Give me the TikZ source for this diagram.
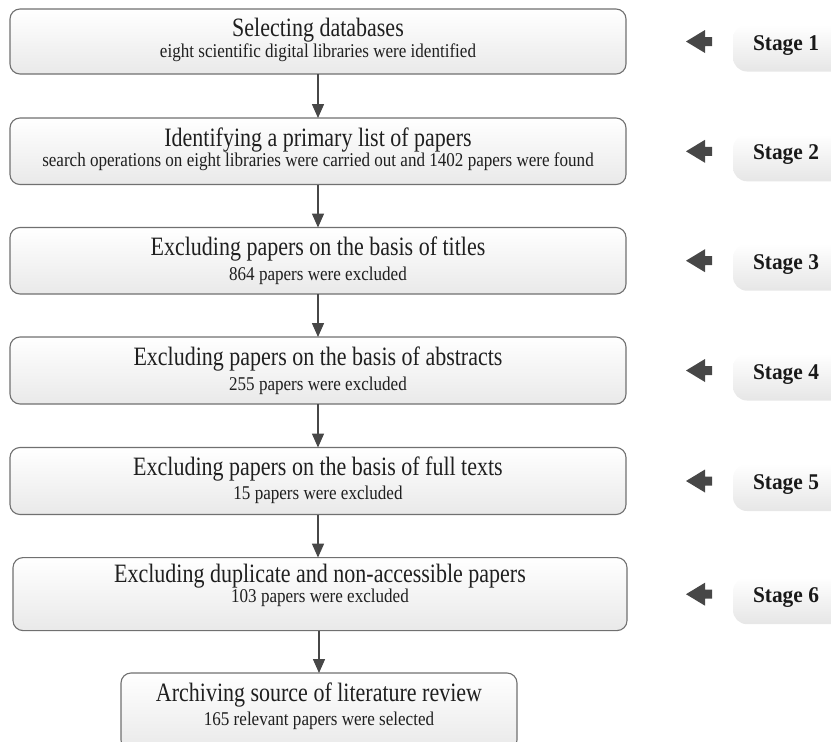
\documentclass[tikz,border=0pt]{standalone}
\usepackage{fontspec}
\setmainfont{Liberation Serif}
\newfontfamily\headfont{Liberation Serif}[FakeStretch=0.83]
\newfontfamily\subfont{Liberation Serif}[FakeStretch=0.875]
\newfontfamily\stagefont{Liberation Serif}[FakeStretch=0.95]
\usetikzlibrary{arrows.meta,calc}
\definecolor{boxgray}{HTML}{707070}
\definecolor{boxbottom}{HTML}{E9E9E9}
\definecolor{conncolor}{HTML}{474747}
\definecolor{stagebottom}{HTML}{E6E6E6}
\tikzset{
  box/.style={draw=boxgray, line width=1.1pt, rounded corners=10pt,
    top color=white, bottom color=boxbottom, inner sep=0pt, outer sep=0pt,
    anchor=north west},
  head/.style={font=\headfont\fontsize{26.5pt}{27pt}\selectfont, anchor=base,
    inner sep=0pt, text=black!88},
  sub/.style={font=\subfont\fontsize{19.5pt}{20pt}\selectfont, anchor=base,
    inner sep=0pt, text=black!88},
  conn/.style={draw=conncolor, line width=1.5pt,
    -{Triangle[width=12pt,length=14pt]}},
  stagebox/.style={rounded corners=14pt, top color=white,
    bottom color=stagebottom, inner sep=0pt, outer sep=0pt, anchor=north west},
  stagetext/.style={font=\stagefont\bfseries\fontsize{22.5pt}{23pt}\selectfont,
    anchor=base, inner sep=0pt, text=black!90},
  stagearrow/.style={fill=conncolor}
}
\begin{document}
\begin{tikzpicture}[x=1pt,y=-1pt]
\useasboundingbox (0,0) rectangle (831,742);
\clip (0,0) rectangle (831,742);

% main boxes
\node[box, minimum width=616pt, minimum height=65pt]   (b1) at (10,9) {};
\node[box, minimum width=616pt, minimum height=66.5pt] (b2) at (10,118) {};
\node[box, minimum width=616pt, minimum height=66.5pt] (b3) at (10,227.5) {};
\node[box, minimum width=616pt, minimum height=67pt]   (b4) at (10,337) {};
\node[box, minimum width=616pt, minimum height=67pt]   (b5) at (10,447.5) {};
\node[box, minimum width=614pt, minimum height=73pt]   (b6) at (13,557.6) {};
\node[box, minimum width=396pt, minimum height=77pt]   (b7) at (121,673) {};

% texts
\node[head] (h1) at (318,36.5) {Selecting databases};
\node[sub]  (s1) at (318,57.5) {eight scientific digital libraries were identified};
\node[head] (h2) at (318,146) {Identifying a primary list of papers};
\node[sub]  (s2) at (318,166) {search operations on eight libraries were carried out and 1402 papers were found};
\node[head] (h3) at (318,255.5) {Excluding papers on the basis of titles};
\node[sub]  (s3) at (318,280.5) {864 papers were excluded};
\node[head] (h4) at (318,365) {Excluding papers on the basis of abstracts};
\node[sub]  (s4) at (318,390) {255 papers were excluded};
\node[head] (h5) at (318,475.5) {Excluding papers on the basis of full texts};
\node[sub]  (s5) at (318,499.5) {15 papers were excluded};
\node[head] (h6) at (320,582.5) {Excluding duplicate and non-accessible papers};
\node[sub]  (s6) at (320,602) {103 papers were excluded};
\node[head] (h7) at (319,701.5) {Archiving source of literature review};
\node[sub]  (s7) at (319,725) {165 relevant papers were selected};

% connectors
\draw[conn] (b1.south) -- (b1.south |- b2.north);
\draw[conn] (b2.south) -- (b2.south |- b3.north);
\draw[conn] (b3.south) -- (b3.south |- b4.north);
\draw[conn] (b4.south) -- (b4.south |- b5.north);
\draw[conn] (b5.south) -- (b5.south |- b6.north);
\draw[conn] (b6.south -| b7.north) -- (b7.north);

% stage labels
\foreach \c/\n in {41.5/1, 151.3/2, 260.7/3, 370.5/4, 481/5, 594.2/6}{
  \node[stagebox, minimum width=120pt, minimum height=47pt] (st\n) at (733,\c-17) {};
  \node[stagetext] (stt\n) at (786,\c+8.5) {Stage \n};
  \fill[stagearrow] (686,\c) -- (705,\c-11.5) -- (705,\c-4.5) -- (712,\c-4.5)
     -- (712,\c+4.5) -- (705,\c+4.5) -- (705,\c+11.5) -- cycle;
}
\end{tikzpicture}
\end{document}
